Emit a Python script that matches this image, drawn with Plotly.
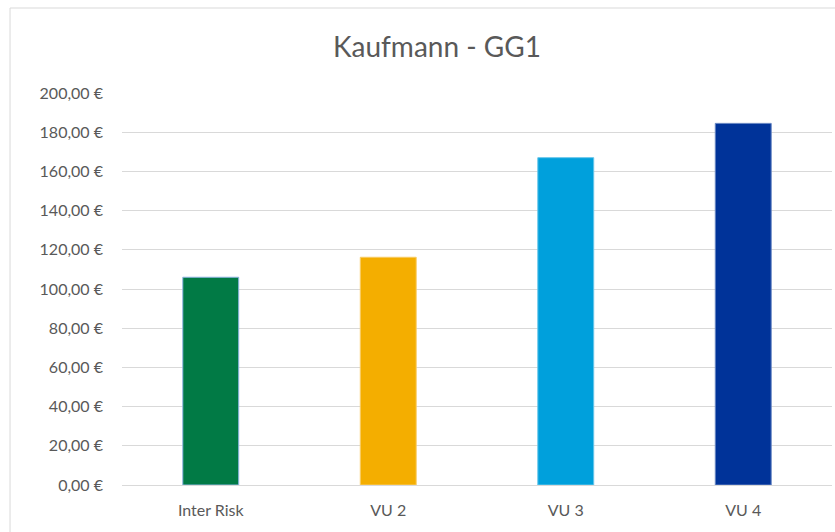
import plotly.graph_objects as go

categories = ["Inter Risk", "VU 2", "VU 3", "VU 4"]
values = [106.0, 116.2, 167.0, 184.5]
colors = ["#017A45", "#F4AE00", "#00A0DC", "#003399"]
outline = ["#8DB4E2", "#F8CC66", "#66C6EA", "#6685C2"]
tick_vals = [0, 20, 40, 60, 80, 100, 120, 140, 160, 180, 200]
tick_text = ["0,00 €", "20,00 €", "40,00 €", "60,00 €", "80,00 €", "100,00 €",
             "120,00 €", "140,00 €", "160,00 €", "180,00 €", "200,00 €"]

fig = go.Figure(go.Bar(
    x=categories, y=values,
    marker=dict(color=colors, line=dict(color=outline, width=1)),
))

fig.update_layout(
    width=835, height=532,
    margin=dict(l=122, r=3, t=93, b=47),
    paper_bgcolor="white", plot_bgcolor="white",
    font=dict(family="Lato, Carlito, sans-serif", size=16, color="#595959"),
    title=dict(text="Kaufmann - GG1", x=437/835, xref="container",
               xanchor="center", y=1-47/532, yanchor="middle",
               font=dict(size=28, color="#595959")),
    bargap=0.685,
    showlegend=False,
    shapes=[dict(type="rect", xref="paper", yref="paper",
                 x0=-0.1577, x1=1.2, y0=-0.3, y1=1.2168,
                 line=dict(color="#D9D9D9", width=1), layer="below")],
)
fig.update_yaxes(range=[0, 200], tickvals=tick_vals, ticktext=tick_text,
                 gridcolor="#D9D9D9", gridwidth=1, zeroline=False, showline=False,
                 ticks="", ticklabelstandoff=18, tickfont=dict(size=16))
fig.update_xaxes(showline=True, linecolor="#D9D9D9", linewidth=1, ticks="",
                 ticklabelstandoff=11, tickfont=dict(size=16))

fig.write_html("out.html", config={"displayModeBar": False},
               post_script="document.body.style.margin='0';document.body.style.overflow='hidden';")
